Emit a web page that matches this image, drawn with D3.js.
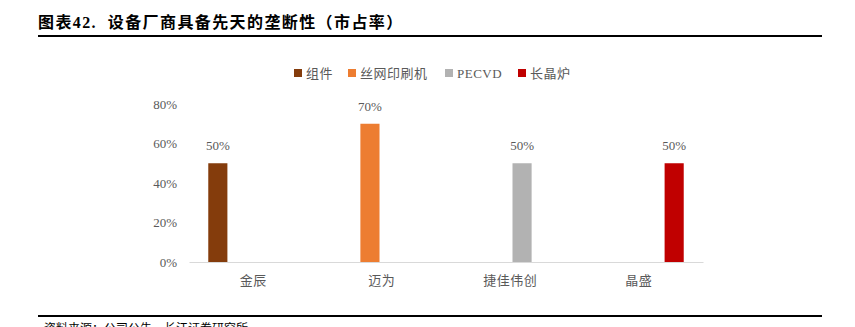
<!DOCTYPE html>
<html>
<head>
<meta charset="utf-8">
<script src="https://cdn.jsdelivr.net/npm/d3@7"></script>
<style>
  html, body { margin: 0; padding: 0; background: #fff; }
</style>
</head>
<body>
<svg id="chart"></svg>
<script>
// data
const categories = ["金辰", "迈为", "捷佳伟创", "晶盛"]
const seriesNames = ["组件", "丝网印刷机", "PECVD", "长晶炉"]
const seriesColors = ["#843C0C", "#ED7D31", "#B2B2B2", "#C00000"]
const zujian = [0.5, null, null, null]
const siwang = [null, 0.7, null, null]
const pecvd = [null, null, 0.5, null]
const changjinglu = [null, null, null, 0.5]
const yTicks = [0, 0.2, 0.4, 0.6, 0.8]

const seriesValues = [zujian, siwang, pecvd, changjinglu]

const width = 855, height = 327
const margin = { top: 104, right: 152, bottom: 65, left: 189 }
const serif = "'Liberation Serif', 'Noto Sans CJK SC', serif"
const textGray = "#595959"

const svg = d3.select("#chart")
    .attr("width", width)
    .attr("height", height)
    .attr("viewBox", [0, 0, width, height])

// title + rules
svg.append("text")
    .attr("x", 38)
    .attr("y", 28)
    .attr("font-family", serif)
    .attr("font-weight", "bold")
    .attr("font-size", 16)
    .attr("letter-spacing", 1.4)
    .attr("fill", "#000")
    .text("图表42.\u00a0\u00a0设备厂商具备先天的垄断性（市占率）")

svg.append("line")
    .attr("x1", 38).attr("x2", 822)
    .attr("y1", 36).attr("y2", 36)
    .attr("stroke", "#000").attr("stroke-width", 2)

svg.append("line")
    .attr("x1", 38).attr("x2", 822)
    .attr("y1", 316).attr("y2", 316)
    .attr("stroke", "#000").attr("stroke-width", 2)

// source note, cut by the bottom edge as in the reference
svg.append("text")
    .attr("x", 44)
    .attr("y", 333)
    .attr("font-family", "'Noto Sans CJK SC', sans-serif")
    .attr("font-size", 12)
    .attr("fill", "#000")
    .text("资料来源：公司公告，长江证券研究所")

const x0 = d3.scaleBand()
    .domain(categories)
    .range([margin.left, width - margin.right])
    .paddingInner(0.3)
    .paddingOuter(0.15)

const x1 = d3.scaleBand()
    .domain(seriesNames)
    .range([0, x0.bandwidth()])
    .paddingInner(0.19)

const y = d3.scaleLinear()
    .domain([0, 0.8])
    .range([height - margin.bottom, margin.top])

// y axis labels (no line, no ticks)
svg.append("g")
    .attr("transform", `translate(${margin.left - 12},0)`)
    .call(d3.axisLeft(y).tickValues(yTicks).tickFormat(d3.format(".0%")).tickSize(0).tickPadding(0))
    .call(g => g.select(".domain").remove())
    .call(g => g.selectAll("text")
        .attr("font-family", serif)
        .attr("font-size", 13)
        .attr("fill", textGray))

// bars
seriesNames.forEach((name, si) => {
  const rows = categories.map((c, i) => ({ cat: c, value: seriesValues[si][i] }))
      .filter(d => d.value != null)
  const g = svg.append("g")
  g.selectAll("rect")
    .data(rows)
    .join("rect")
      .attr("x", d => x0(d.cat) + x1(name))
      .attr("width", x1.bandwidth())
      .attr("y", d => y(d.value))
      .attr("height", d => y(0) - y(d.value))
      .attr("fill", seriesColors[si])
  g.selectAll("text")
    .data(rows)
    .join("text")
      .attr("x", d => x0(d.cat) + x1(name) + x1.bandwidth() / 2)
      .attr("y", d => y(d.value) - 13)
      .attr("text-anchor", "middle")
      .attr("font-family", serif)
      .attr("font-size", 13)
      .attr("fill", textGray)
      .text(d => d3.format(".0%")(d.value))
})

// x axis
svg.append("g")
    .attr("transform", `translate(0,${y(0)})`)
    .call(d3.axisBottom(x0).tickSize(0).tickPadding(14))
    .call(g => g.select(".domain").attr("stroke", "#D9D9D9"))
    .call(g => g.selectAll("text")
        .attr("font-family", "'Noto Sans CJK SC', sans-serif")
        .attr("font-size", 13)
        .attr("letter-spacing", 0.5)
        .attr("fill", textGray))

// legend
const legendX = [294, 348, 445, 518]
const legend = svg.append("g")
legend.selectAll("g")
  .data(seriesNames)
  .join("g")
    .attr("transform", (d, i) => `translate(${legendX[i]},73)`)
    .call(g => g.append("rect")
        .attr("x", 0).attr("y", -4)
        .attr("width", 8).attr("height", 8)
        .attr("fill", (d, i) => seriesColors[i]))
    .call(g => g.append("text")
        .attr("x", 12)
        .attr("y", 5)
        .attr("font-family", serif)
        .attr("font-size", 13)
        .attr("letter-spacing", 0.5)
        .attr("fill", textGray)
        .text(d => d))
</script>
</body>
</html>
